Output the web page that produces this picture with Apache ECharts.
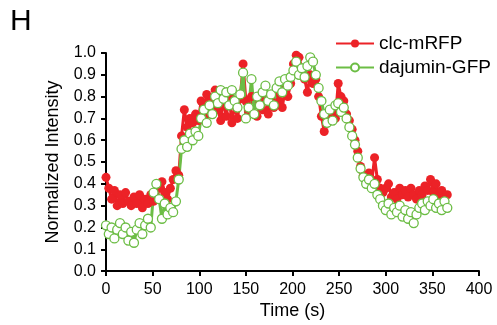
<!DOCTYPE html>
<html>
<head>
<meta charset="utf-8">
<script src="https://cdn.jsdelivr.net/npm/echarts@6/dist/echarts.min.js"></script>
<style>
  html, body { margin: 0; padding: 0; background: #fff; }
  #chart { width: 497px; height: 325px; }
</style>
</head>
<body>
<div id="chart"></div>
<script>
// time points (s)
const tempos = [0, 3, 6, 9, 12, 15, 18, 21, 24, 27, 30, 33, 36, 39, 42, 45, 48, 51, 54, 57,
  60, 63, 66, 69, 72, 75, 78, 81, 84, 87, 90, 93, 96, 99, 102, 105, 108, 111, 114, 117,
  120, 123, 126, 129, 132, 135, 138, 141, 144, 147, 150, 153, 156, 159, 162, 165, 168, 171, 174, 177,
  180, 183, 186, 189, 192, 195, 198, 201, 204, 207, 210, 213, 216, 219, 222, 225, 228, 231, 234, 237,
  240, 243, 246, 249, 252, 255, 258, 261, 264, 267, 270, 273, 276, 279, 282, 285, 288, 291, 294, 297,
  300, 303, 306, 309, 312, 315, 318, 321, 324, 327, 330, 333, 336, 339, 342, 345, 348, 351, 354, 357,
  360, 363, 366];

// clc-mRFP
const clcMRFP = [0.43, 0.38, 0.33, 0.37, 0.30, 0.35, 0.31, 0.36, 0.32, 0.30, 0.34, 0.31, 0.35, 0.29, 0.33, 0.31, 0.35, 0.32, 0.34, 0.38,
  0.41, 0.36, 0.33, 0.38, 0.42, 0.46, 0.44, 0.62, 0.74, 0.66, 0.70, 0.68, 0.72, 0.69, 0.78, 0.74, 0.81, 0.72, 0.79, 0.83,
  0.74, 0.69, 0.78, 0.71, 0.80, 0.68, 0.76, 0.70, 0.79, 0.95, 0.78, 0.73, 0.80, 0.72, 0.71, 0.77, 0.74, 0.80, 0.72, 0.78,
  0.75, 0.82, 0.78, 0.75, 0.83, 0.80, 0.86, 0.95, 0.99, 0.98, 0.93, 0.88, 0.82, 0.90, 0.86, 0.88, 0.80, 0.71, 0.64, 0.72,
  0.69, 0.73, 0.70, 0.86, 0.80, 0.78, 0.72, 0.69, 0.65, 0.60, 0.55, 0.48, 0.44, 0.42, 0.45, 0.41, 0.52, 0.42, 0.38, 0.36,
  0.38, 0.40, 0.34, 0.36, 0.33, 0.38, 0.35, 0.37, 0.34, 0.38, 0.35, 0.33, 0.37, 0.35, 0.39, 0.37, 0.42, 0.36, 0.40, 0.35,
  0.37, 0.34, 0.35];

// dajumin-GFP
const dajuminGFP = [0.21, 0.17, 0.20, 0.15, 0.19, 0.22, 0.17, 0.20, 0.14, 0.18, 0.13, 0.19, 0.22, 0.17, 0.21, 0.24, 0.20, 0.36, 0.40, 0.33,
  0.24, 0.31, 0.26, 0.29, 0.27, 0.32, 0.42, 0.56, 0.60, 0.57, 0.63, 0.60, 0.64, 0.62, 0.70, 0.74, 0.68, 0.76, 0.72, 0.80,
  0.77, 0.83, 0.79, 0.82, 0.76, 0.83, 0.78, 0.75, 0.81, 0.91, 0.70, 0.75, 0.88, 0.72, 0.80, 0.76, 0.82, 0.85, 0.78, 0.81,
  0.76, 0.84, 0.87, 0.82, 0.88, 0.85, 0.89, 0.92, 0.96, 0.90, 0.93, 0.89, 0.94, 0.98, 0.96, 0.90, 0.84, 0.78, 0.72, 0.68,
  0.74, 0.69, 0.76, 0.77, 0.73, 0.75, 0.70, 0.66, 0.62, 0.58, 0.52, 0.47, 0.43, 0.40, 0.42, 0.38, 0.40, 0.35, 0.33, 0.30,
  0.28, 0.31, 0.26, 0.29, 0.27, 0.30, 0.25, 0.28, 0.24, 0.27, 0.22, 0.26, 0.29, 0.31, 0.28, 0.32, 0.30, 0.33, 0.29, 0.31,
  0.28, 0.32, 0.29];

const yTicks = ['0.0', '0.1', '0.2', '0.3', '0.4', '0.5', '0.6', '0.7', '0.8', '0.9', '1.0'];

const fonte = 'Liberation Sans, Arial, sans-serif';
const vermelho = '#ec2227';
const verde = '#6cbd45';

const chart = echarts.init(document.getElementById('chart'));

chart.setOption({
  animation: false,
  grid: { left: 106, right: 18, top: 53, bottom: 50 },
  graphic: [{
    type: 'text', left: 10, top: 7,
    style: { text: 'H', font: '30px ' + fonte, fill: '#000' }
  }],
  legend: {
    orient: 'vertical',
    left: 330, top: 29,
    itemWidth: 38, itemHeight: 10, itemGap: 5,
    textStyle: { fontFamily: fonte, fontSize: 19, color: '#000' },
    data: ['clc-mRFP', 'dajumin-GFP']
  },
  xAxis: {
    type: 'value', min: 0, max: 400, interval: 50,
    name: 'Time (s)', nameLocation: 'middle', nameGap: 28,
    nameTextStyle: { fontFamily: fonte, fontSize: 18, color: '#000' },
    axisLine: { lineStyle: { color: '#000', width: 2 } },
    axisTick: { length: 5, lineStyle: { color: '#000', width: 2 } },
    axisLabel: { fontFamily: fonte, fontSize: 16, color: '#000', margin: 10 },
    splitLine: { show: false }
  },
  yAxis: {
    type: 'value', min: 0, max: 1, interval: 0.1,
    name: 'Normalized Intensity', nameLocation: 'middle', nameGap: 44,
    nameTextStyle: { fontFamily: fonte, fontSize: 18, color: '#000' },
    axisLine: { show: true, lineStyle: { color: '#000', width: 2 } },
    axisTick: { show: true, length: 5, lineStyle: { color: '#000', width: 2 } },
    axisLabel: {
      fontFamily: fonte, fontSize: 16, color: '#000', margin: 10,
      formatter: (v) => yTicks[Math.round(v * 10)]
    },
    splitLine: { show: false }
  },
  series: [
    {
      name: 'clc-mRFP', type: 'line',
      data: tempos.map((t, i) => [t, clcMRFP[i]]),
      symbol: 'circle', symbolSize: 9, showAllSymbol: true,
      lineStyle: { color: vermelho, width: 3 },
      itemStyle: { color: vermelho, borderColor: vermelho, borderWidth: 0 }
    },
    {
      name: 'dajumin-GFP', type: 'line',
      data: tempos.map((t, i) => [t, dajuminGFP[i]]),
      symbol: 'circle', symbolSize: 9, showAllSymbol: true,
      lineStyle: { color: verde, width: 3 },
      itemStyle: { color: '#fff', borderColor: verde, borderWidth: 1.3 }
    }
  ]
});
</script>
</body>
</html>
